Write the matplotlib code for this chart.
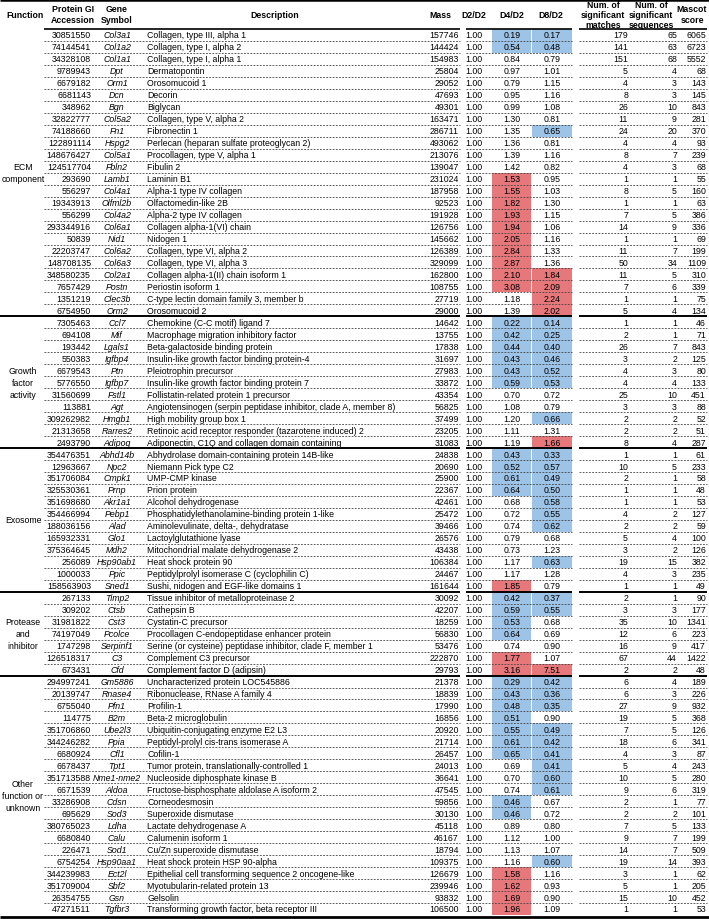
import matplotlib.pyplot as plt

group_names = ["ECM\ncomponent", "Growth\nfactor\nactivity", "Exosome",
               "Protease\nand\ninhibitor", "Other\nfunction or\nunknown"]
group_sizes = [24, 11, 12, 7, 20]

accession = [
    30851550, 74144541, 34328108, 9789943, 6679182, 6681143, 348962, 32822777,
    74188660, 122891114, 148676427, 124517704, 293690, 556297, 19343913, 556299,
    293344916, 50839, 22203747, 148708135, 348580235, 7657429, 1351219, 6754950,
    7305463, 694108, 193442, 550383, 6679543, 5776550, 31560699, 113881,
    309262982, 21313658, 2493790,
    354476351, 12963667, 351706084, 325530361, 351698680, 354466994, 188036156,
    165932331, 375364645, 256089, 1000033, 158563903,
    267133, 309202, 31981822, 74197049, 1747298, 126518317, 673431,
    294997241, 20139747, 6755040, 114775, 351706860, 344246282, 6680924, 6678437,
    351713588, 6671539, 33286908, 695629, 380765023, 6680840, 226471, 6754254,
    344239983, 351709004, 26354755, 47271511,
]
gene = [
    "Col3a1", "Col1a2", "Col1a1", "Dpt", "Orm1", "Dcn", "Bgn", "Col5a2", "Fn1",
    "Hspg2", "Col5a1", "Fbln2", "Lamb1", "Col4a1", "Olfml2b", "Col4a2", "Col6a1",
    "Nid1", "Col6a2", "Col6a3", "Col2a1", "Postn", "Clec3b", "Orm2",
    "Ccl7", "Mif", "Lgals1", "Igfbp4", "Ptn", "Igfbp7", "Fstl1", "Agt", "Hmgb1",
    "Rarres2", "Adipoq",
    "Abhd14b", "Npc2", "Cmpk1", "Prnp", "Akr1a1", "Pebp1", "Alad", "Glo1", "Mdh2",
    "Hsp90ab1", "Ppic", "Sned1",
    "Timp2", "Ctsb", "Cst3", "Pcolce", "Serpinf1", "C3", "Cfd",
    "Gm5886", "Rnase4", "Pfn1", "B2m", "Ube2l3", "Ppia", "Cfl1", "Tpt1",
    "Nme1-nme2", "Aldoa", "Cdsn", "Sod3", "Ldha", "Calu", "Sod1", "Hsp90aa1",
    "Ect2l", "Sbf2", "Gsn", "Tgfbr3",
]
description = [
    "Collagen, type III, alpha 1", "Collagen, type I, alpha 2",
    "Collagen, type I, alpha 1", "Dermatopontin", "Orosomucoid 1", "Decorin",
    "Biglycan", "Collagen, type V, alpha 2", "Fibronectin 1",
    "Perlecan (heparan sulfate proteoglycan 2)", "Procollagen, type V, alpha 1",
    "Fibulin 2", "Laminin B1", "Alpha-1 type IV collagen", "Olfactomedin-like 2B",
    "Alpha-2 type IV collagen", "Collagen alpha-1(VI) chain", "Nidogen 1",
    "Collagen, type VI, alpha 2", "Collagen, type VI, alpha 3",
    "Collagen alpha-1(II) chain isoform 1", "Periostin isoform 1",
    "C-type lectin domain family 3, member b", "Orosomucoid 2",
    "Chemokine (C-C motif) ligand 7", "Macrophage migration inhibitory factor",
    "Beta-galactoside binding protein",
    "Insulin-like growth factor binding protein-4", "Pleiotrophin precursor",
    "Insulin-like growth factor binding protein 7",
    "Follistatin-related protein 1 precursor",
    "Angiotensinogen (serpin peptidase inhibitor, clade A, member 8)",
    "High mobility group box 1",
    "Retinoic acid receptor responder (tazarotene induced) 2",
    "Adiponectin, C1Q and collagen domain containing",
    "Abhydrolase domain-containing protein 14B-like", "Niemann Pick type C2",
    "UMP-CMP kinase", "Prion protein", "Alcohol dehydrogenase",
    "Phosphatidylethanolamine-binding protein 1-like",
    "Aminolevulinate, delta-, dehydratase", "Lactoylglutathione lyase",
    "Mitochondrial malate dehydrogenase 2", "Heat shock protein 90",
    "Peptidylprolyl isomerase C (cyclophilin C)",
    "Sushi, nidogen and EGF-like domains 1",
    "Tissue inhibitor of metalloproteinase 2", "Cathepsin B",
    "Cystatin-C precursor", "Procollagen C-endopeptidase enhancer protein",
    "Serine (or cysteine) peptidase inhibitor, clade F, member 1",
    "Complement C3 precursor", "Complement factor D (adipsin)",
    "Uncharacterized protein LOC545886", "Ribonuclease, RNase A family 4",
    "Profilin-1", "Beta-2 microglobulin", "Ubiquitin-conjugating enzyme E2 L3",
    "Peptidyl-prolyl cis-trans isomerase A", "Cofilin-1",
    "Tumor protein, translationally-controlled 1",
    "Nucleoside diphosphate kinase B",
    "Fructose-bisphosphate aldolase A isoform 2", "Corneodesmosin",
    "Superoxide dismutase", "Lactate dehydrogenase A", "Calumenin isoform 1",
    "Cu/Zn superoxide dismutase", "Heat shock protein HSP 90-alpha",
    "Epithelial cell transforming sequence 2 oncogene-like",
    "Myotubularin-related protein 13", "Gelsolin",
    "Transforming growth factor, beta receptor III",
]
mass = [
    157746, 144424, 154983, 25804, 29052, 47693, 49301, 163471, 286711, 493062,
    213076, 139047, 231024, 187958, 92523, 191928, 126756, 145662, 126389,
    329099, 162800, 108755, 27719, 29000,
    14642, 13755, 17838, 31697, 27983, 33872, 43354, 56825, 37499, 23205, 31083,
    24838, 20690, 25900, 22367, 42461, 25472, 39466, 26576, 43438, 106384,
    24467, 161644,
    30092, 42207, 18259, 56830, 53476, 222870, 29793,
    21378, 18839, 17990, 16856, 20920, 21714, 26457, 24013, 36641, 47545, 59856,
    30130, 45118, 46167, 18794, 109375, 126679, 239946, 93832, 106500,
]
d2_d2 = 1.00  # reference ratio, identical for every protein
d4_d2 = [
    0.19, 0.54, 0.84, 0.97, 0.79, 0.95, 0.99, 1.30, 1.35, 1.36, 1.39, 1.42,
    1.53, 1.55, 1.82, 1.93, 1.94, 2.05, 2.84, 2.87, 2.10, 3.08, 1.18, 1.39,
    0.22, 0.42, 0.44, 0.43, 0.43, 0.59, 0.70, 1.08, 1.20, 1.11, 1.19,
    0.43, 0.52, 0.61, 0.64, 0.68, 0.72, 0.74, 0.79, 0.73, 1.17, 1.17, 1.85,
    0.42, 0.59, 0.53, 0.64, 0.74, 1.77, 3.16,
    0.29, 0.43, 0.48, 0.51, 0.55, 0.61, 0.65, 0.69, 0.70, 0.74, 0.46, 0.46,
    0.89, 1.12, 1.13, 1.16, 1.58, 1.62, 1.69, 1.96,
]
d8_d2 = [
    0.17, 0.48, 0.79, 1.01, 1.15, 1.16, 1.08, 0.81, 0.65, 0.81, 1.16, 0.82,
    0.95, 1.03, 1.30, 1.15, 1.06, 1.16, 1.33, 1.36, 1.84, 2.09, 2.24, 2.02,
    0.14, 0.25, 0.40, 0.46, 0.52, 0.53, 0.72, 0.79, 0.66, 1.31, 1.66,
    0.33, 0.57, 0.49, 0.50, 0.58, 0.55, 0.62, 0.68, 1.23, 0.63, 1.28, 0.79,
    0.37, 0.55, 0.68, 0.69, 0.90, 1.07, 7.51,
    0.42, 0.36, 0.35, 0.90, 0.49, 0.42, 0.41, 0.41, 0.60, 0.61, 0.67, 0.72,
    0.80, 1.00, 1.07, 0.60, 1.16, 0.93, 0.90, 1.09,
]
matches = [
    179, 141, 151, 5, 4, 8, 26, 11, 24, 4, 8, 4, 1, 8, 1, 7, 14, 1, 11, 50, 11,
    7, 1, 5,
    1, 2, 26, 3, 4, 4, 25, 3, 2, 2, 8,
    1, 10, 2, 1, 1, 4, 2, 5, 3, 19, 4, 1,
    2, 3, 35, 12, 16, 67, 2,
    6, 6, 27, 19, 7, 18, 4, 5, 10, 9, 2, 2, 7, 9, 14, 19, 3, 5, 15, 1,
]
sequences = [
    65, 63, 68, 4, 3, 3, 10, 9, 20, 4, 7, 3, 1, 5, 1, 5, 9, 1, 7, 34, 5, 6, 1, 4,
    1, 1, 7, 2, 3, 4, 10, 3, 2, 2, 4,
    1, 5, 1, 1, 1, 2, 2, 4, 2, 15, 3, 1,
    1, 3, 10, 6, 9, 44, 2,
    4, 3, 9, 5, 5, 6, 3, 4, 5, 6, 1, 2, 5, 7, 7, 14, 1, 1, 10, 1,
]
mascot = [
    6065, 6723, 5552, 68, 143, 145, 843, 281, 370, 93, 239, 68, 55, 160, 63, 386,
    336, 69, 199, 1109, 310, 339, 75, 134,
    46, 71, 843, 125, 80, 133, 451, 88, 52, 51, 287,
    61, 233, 58, 48, 53, 127, 59, 100, 126, 382, 235, 49,
    90, 177, 1341, 223, 417, 1422, 48,
    189, 226, 932, 368, 126, 341, 87, 243, 280, 319, 77, 101, 133, 199, 509,
    393, 62, 205, 452, 53,
]

# ---- layout (pixel coordinates on a 709 x 920 canvas) ----
W, H = 709, 920
FONT = ["Liberation Sans Narrow", "Liberation Sans", "DejaVu Sans"]
FS = 6.3
BLUE, RED = "#9dc3e6", "#e6777a"
y_first, y_last = 36.0, 910.0
n = len(accession)
pitch = (y_last - y_first) / (n - 1)
segs = [(44, 460), (466, 572), (579, 707)]   # the three column blocks

fig = plt.figure(figsize=(W / 100, H / 100), dpi=100)
ax = fig.add_axes([0, 0, 1, 1])
ax.set_xlim(0, W)
ax.set_ylim(H, 0)
ax.axis("off")


def txt(x, y, s, ha="center", **kw):
    ax.text(x, y, s, ha=ha, va="center", fontsize=FS, family=FONT, **kw)


# header
hy = 15
txt(25, hy, "Function", weight="bold")
txt(73, hy, "Protein GI\nAccession", weight="bold", linespacing=1.3)
txt(117, hy, "Gene\nSymbol", weight="bold", linespacing=1.3)
txt(275, hy, "Description", weight="bold")
txt(440, hy, "Mass", weight="bold")
txt(474, hy, "D2/D2", weight="bold")
txt(512, hy, "D4/D2", weight="bold")
txt(551, hy, "D8/D2", weight="bold")
txt(603, hy + 0.5, "Num. of\nsignificant\nmatches", weight="bold", linespacing=1.1)
txt(651, hy + 0.5, "Num. of\nsignificant\nsequences", weight="bold", linespacing=1.1)
txt(692, hy, "Mascot\nscore", weight="bold", linespacing=1.3)

ax.plot([0, W], [1.2, 1.2], color="black", lw=1.8, solid_capstyle="butt")
head_bottom = y_first - pitch / 2
for x0, x1 in segs:
    ax.plot([x0, x1], [head_bottom, head_bottom], color="black", lw=1.2,
            solid_capstyle="butt")

# highlighted ratio cells
col_d4 = (492, 531)
col_d8 = (532, 572)
for i in range(n):
    yc = y_first + i * pitch
    for (x0, x1), v in ((col_d4, d4_d2[i]), (col_d8, d8_d2[i])):
        if v > 1.5 or v < 1 / 1.5:
            ax.add_patch(plt.Rectangle((x0, yc - pitch / 2), x1 - x0, pitch,
                                       facecolor=RED if v > 1.5 else BLUE,
                                       edgecolor="none", zorder=0))

# body rows
for i in range(n):
    yc = y_first + i * pitch
    txt(91, yc, str(accession[i]), ha="right")
    txt(117, yc, gene[i], style="italic")
    txt(147, yc, description[i], ha="left")
    txt(459, yc, str(mass[i]), ha="right")
    txt(474, yc, f"{d2_d2:.2f}")
    txt(512, yc, f"{d4_d2[i]:.2f}")
    txt(552, yc, f"{d8_d2[i]:.2f}")
    txt(628, yc, str(matches[i]), ha="right")
    txt(677, yc, str(sequences[i]), ha="right")
    txt(706, yc, str(mascot[i]), ha="right")

# row separators and group labels
start = 0
for g, size in zip(group_names, group_sizes):
    end = start + size
    for i in range(start, end - 1):
        yb = y_first + (i + 0.5) * pitch
        for x0, x1 in segs:
            ax.plot([x0, x1], [yb, yb], color="#444444", lw=0.6,
                    linestyle=(0, (2.2, 1.6)))
    yb = y_first + (end - 0.5) * pitch
    if end < n:
        for k, (x0, x1) in enumerate(segs):
            ax.plot([0 if k == 0 else x0, x1], [yb, yb], color="black", lw=1.4,
                    solid_capstyle="butt")
    ymid = y_first + (start + end - 1) / 2 * pitch
    txt(23, ymid, g, linespacing=1.45)
    start = end

ax.plot([0, W], [H - 2.5, H - 2.5], color="black", lw=2.0, solid_capstyle="butt")

fig.savefig("out.png", dpi=100)
